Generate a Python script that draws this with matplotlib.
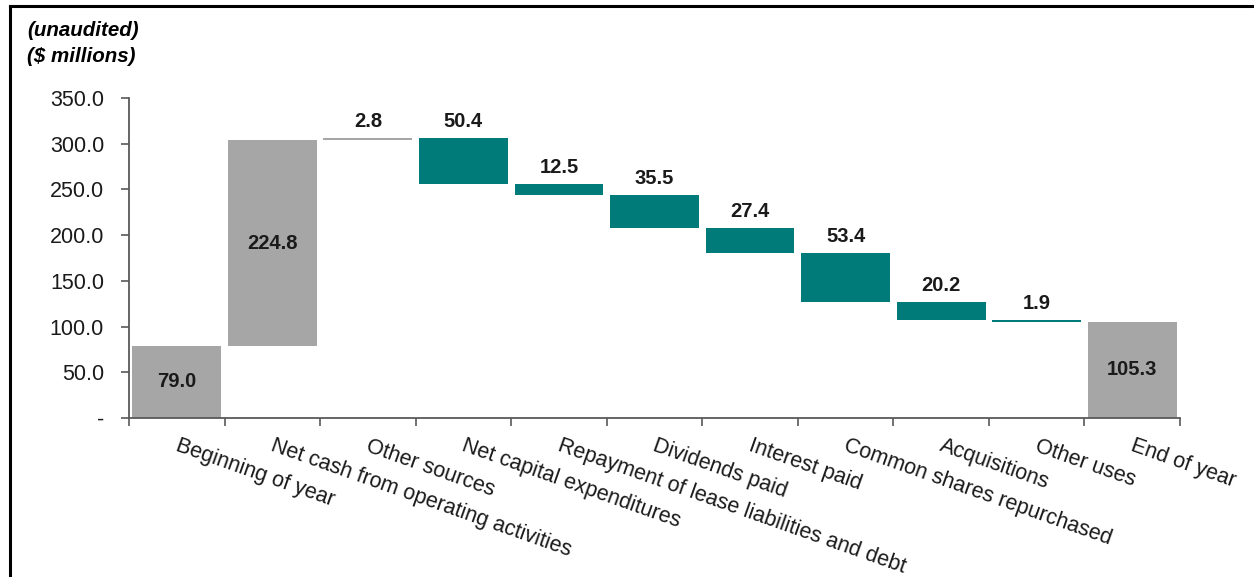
import matplotlib
matplotlib.use("Agg")
import matplotlib.pyplot as plt
from matplotlib.lines import Line2D
import matplotlib.transforms as mtransforms

plt.rcParams['font.family'] = ['Liberation Sans', 'DejaVu Sans']

# Cash flow waterfall data ($ millions)
categories = [
    "Beginning of year",
    "Net cash from operating activities",
    "Other sources",
    "Net capital expenditures",
    "Repayment of lease liabilities and debt",
    "Dividends paid",
    "Interest paid",
    "Common shares repurchased",
    "Acquisitions",
    "Other uses",
    "End of year",
]
changes = [79.0, 224.8, 2.8, -50.4, -12.5, -35.5, -27.4, -53.4, -20.2, -1.9]
end_value = 105.3
y_ticks = [0, 50, 100, 150, 200, 250, 300, 350]
y_tick_labels = ["-", "50.0", "100.0", "150.0", "200.0", "250.0", "300.0", "350.0"]

GRAY = "#A6A6A6"
TEAL = "#007B79"
AXIS = "#595959"

fig = plt.figure(figsize=(12.54, 5.77), dpi=100)
ax = fig.add_axes([129 / 1254, 159 / 577, 1051 / 1254, 320 / 577])

# Build floating bars
bottoms, heights, colors, labels_inside = [], [], [], []
running = 0.0
for i, c in enumerate(changes):
    if i == 0:
        bottoms.append(0.0)
        heights.append(c)
        colors.append(GRAY)
        labels_inside.append(True)
        running = c
    elif c >= 0:
        bottoms.append(running)
        heights.append(c)
        colors.append(GRAY)
        labels_inside.append(i == 1)
        running += c
    else:
        bottoms.append(running + c)
        heights.append(-c)
        colors.append(TEAL)
        labels_inside.append(False)
        running += c
bottoms.append(0.0)
heights.append(end_value)
colors.append(GRAY)
labels_inside.append(True)

x = list(range(len(categories)))
ax.bar(x, heights, bottom=bottoms, width=0.93, color=colors,
       edgecolor="none", linewidth=0, zorder=2)

values = [abs(c) for c in changes] + [end_value]
for xi, b, h, v, inside in zip(x, bottoms, heights, values, labels_inside):
    txt = f"{v:.1f}"
    if inside:
        ax.text(xi, b + h / 2, txt, ha="center", va="center",
                fontsize=14.5, fontweight="bold", color="#1A1A1A")
    else:
        ax.annotate(txt, (xi, b + h), xytext=(0, 5), textcoords="offset points",
                    ha="center", va="bottom", fontsize=14.5, fontweight="bold",
                    color="#1A1A1A")

ax.set_xlim(-0.5, len(categories) - 0.5)
ax.set_ylim(0, 350)
ax.set_yticks(y_ticks)
ax.set_yticklabels(y_tick_labels, fontsize=15.5, color="#1A1A1A")
ax.set_xticks([i - 0.5 for i in range(len(categories) + 1)])
ax.set_xticklabels([])

for side in ("top", "right"):
    ax.spines[side].set_visible(False)
for side in ("left", "bottom"):
    ax.spines[side].set_color(AXIS)
    ax.spines[side].set_linewidth(1.3)
ax.tick_params(axis="y", direction="out", length=6, width=1.2, color=AXIS, pad=12)
ax.tick_params(axis="x", direction="out", length=6, width=1.2, color=AXIS)

# Rotated category labels hanging below the axis
trans = mtransforms.blended_transform_factory(ax.transData, ax.transAxes)
for xi, name in zip(x, categories):
    ax.text(xi + 0.03, -0.055, name, transform=trans, rotation=-19.5,
            rotation_mode="anchor", ha="left", va="top", fontsize=15.5,
            color="#1A1A1A")

fig.text(27 / 1254, 1 - 30 / 577, "(unaudited)", fontsize=14.8,
         fontweight="bold", fontstyle="italic", va="center", ha="left")
fig.text(27 / 1254, 1 - 57 / 577, "($ millions)", fontsize=14.8,
         fontweight="bold", fontstyle="italic", va="center", ha="left")

# Frame lines along the top and left edges
fig.add_artist(Line2D([9.5 / 1254, 9.5 / 1254], [0, 1 - 6 / 577],
                      transform=fig.transFigure, color="black", linewidth=2.2))
fig.add_artist(Line2D([9.5 / 1254, 1], [1 - 6 / 577, 1 - 6 / 577],
                      transform=fig.transFigure, color="black", linewidth=2.2))

fig.savefig("out.png", dpi=100, facecolor="white")
